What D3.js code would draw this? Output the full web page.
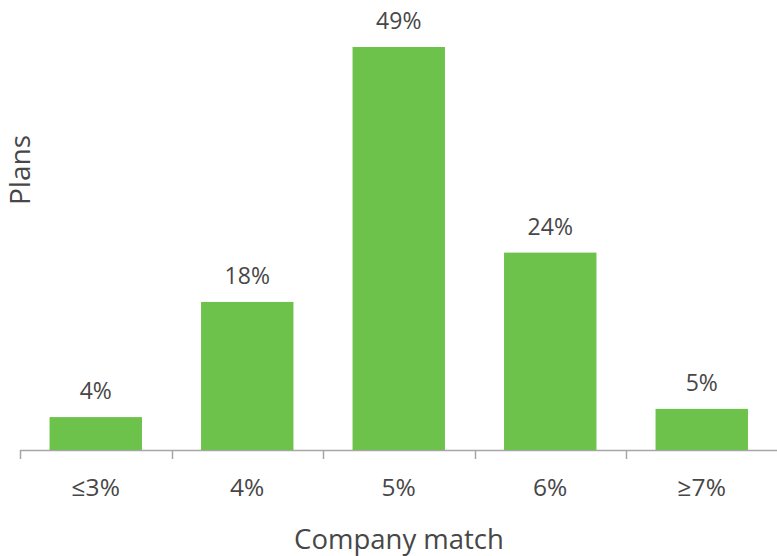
<!DOCTYPE html>
<html><head><meta charset="utf-8">
<script src="https://cdn.jsdelivr.net/npm/d3@7"></script>
<style>body{margin:0;background:#fff;} svg{display:block;font-family:"Open Sans","Noto Sans",sans-serif;}</style>
</head><body>
<svg id="c" width="777" height="556"></svg>
<script>
const categories = ["≤3%", "4%", "5%", "6%", "≥7%"];
const values = [4, 18, 49, 24, 5];
const valueLabels = ["4%", "18%", "49%", "24%", "5%"];

const svg = d3.select("#c");
const x = d3.scaleBand().domain(categories).range([20, 777.5]).paddingInner(0.39).paddingOuter(0.195);
const y = d3.scaleLinear().domain([0, 49]).range([450, 47]);

const step = x.step();
const x0 = 20;
svg.append("line").attr("x1", 20).attr("x2", 777).attr("y1", 450.5).attr("y2", 450.5)
  .attr("stroke", "#a6a6a6").attr("stroke-width", 1.5);
categories.forEach((c, i) => {
  const tx = Math.round(x0 + i * step) + 0.5;
  svg.append("line").attr("x1", tx).attr("x2", tx).attr("y1", 450).attr("y2", 459)
    .attr("stroke", "#a6a6a6").attr("stroke-width", 1.5);
});

svg.selectAll("rect.bar").data(values).join("rect").attr("class", "bar")
  .attr("x", (d, i) => x(categories[i]))
  .attr("width", x.bandwidth())
  .attr("y", d => y(d))
  .attr("height", d => y(0) - y(d))
  .attr("fill", "#6cc24a");

svg.selectAll("text.val").data(values).join("text").attr("class", "val")
  .attr("x", (d, i) => x(categories[i]) + x.bandwidth() / 2)
  .attr("y", d => y(d) - 18)
  .attr("text-anchor", "middle").attr("font-size", 23).attr("fill", "#474747")
  .text((d, i) => valueLabels[i]);

svg.selectAll("text.cat").data(categories).join("text").attr("class", "cat")
  .attr("x", d => x(d) + x.bandwidth() / 2)
  .attr("y", 496)
  .attr("text-anchor", "middle").attr("font-size", 24.5).attr("fill", "#474747")
  .text(d => d);

svg.append("text").attr("x", 399).attr("y", 549).attr("text-anchor", "middle")
  .attr("font-size", 27.5).attr("fill", "#474747").text("Company match");

svg.append("text").attr("transform", "translate(30,170) rotate(-90)").attr("text-anchor", "middle")
  .attr("font-size", 28).attr("fill", "#474747").text("Plans");
</script>
</body></html>
